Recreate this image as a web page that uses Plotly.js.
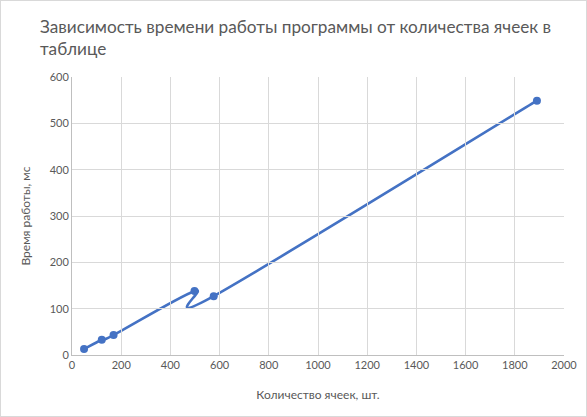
<!DOCTYPE html>
<html><head><meta charset="utf-8">
<script src="https://cdn.plot.ly/plotly-3.0.1.min.js"></script>
<style>html,body{margin:0;padding:0;background:#fff}#c{width:587px;height:417px;box-sizing:border-box;border:1px solid #d9d9d9}</style>
</head><body><div id="c"></div>
<script>
const cells = [49, 121, 169, 498, 576, 1890];
const timeMs = [13, 33, 43, 138, 127, 549];
const xTicks = [0, 200, 400, 600, 800, 1000, 1200, 1400, 1600, 1800, 2000];
const yTicks = [0, 100, 200, 300, 400, 500, 600];

// Excel-style smoothed line: Bezier segments through the data (Catmull-Rom control points)
function smoothPath(xs, ys) {
  const n = xs.length;
  const P = i => [xs[Math.max(0, Math.min(n - 1, i))], ys[Math.max(0, Math.min(n - 1, i))]];
  let d = 'M' + xs[0] + ',' + ys[0];
  for (let i = 0; i < n - 1; i++) {
    const p0 = P(i - 1), p1 = P(i), p2 = P(i + 1), p3 = P(i + 2);
    const c1 = [p1[0] + (p2[0] - p0[0]) / 6, p1[1] + (p2[1] - p0[1]) / 6];
    const c2 = [p2[0] - (p3[0] - p1[0]) / 6, p2[1] - (p3[1] - p1[1]) / 6];
    d += ' C' + c1[0] + ',' + c1[1] + ' ' + c2[0] + ',' + c2[1] + ' ' + p2[0] + ',' + p2[1];
  }
  return d;
}

const font = 'Lato, "Open Sans", sans-serif';
const col = '#4472C4';
Plotly.newPlot('c', [{
  x: cells, y: timeMs, type: 'scatter', mode: 'markers',
  marker: {size: 8, color: col},
  cliponaxis: false
}], {
  width: 585, height: 415,
  margin: {l: 71, r: 22, t: 76, b: 61},
  paper_bgcolor: '#fff', plot_bgcolor: '#fff',
  showlegend: false,
  shapes: [{type: 'path', xref: 'x', yref: 'y', path: smoothPath(cells, timeMs),
    line: {color: col, width: 2.6}, fillcolor: 'rgba(0,0,0,0)', layer: 'below'}],
  annotations: [{text: 'Зависимость времени работы программы от количества ячеек в<br>таблице',
    xref: 'paper', yref: 'paper', x: -34/492, y: 1 + 63/278, xanchor: 'left', yanchor: 'top',
    align: 'left', showarrow: false,
    font: {family: font, size: 17.2, color: '#595959'}}],
  xaxis: {range: [0, 2000], tickvals: xTicks, ticktext: xTicks.map(String),
    showgrid: true, gridcolor: '#d9d9d9', gridwidth: 1, zeroline: false,
    showline: true, linecolor: '#bfbfbf', ticks: '',
    tickfont: {family: font, size: 11, color: '#595959'},
    title: {text: 'Количество ячеек, шт.', font: {family: font, size: 12, color: '#595959'}, standoff: 20}},
  yaxis: {range: [0, 600], tickvals: yTicks, ticktext: yTicks.map(String),
    showgrid: true, gridcolor: '#d9d9d9', gridwidth: 1, zeroline: false,
    showline: true, linecolor: '#bfbfbf', ticks: '',
    tickfont: {family: font, size: 11, color: '#595959'},
    title: {text: 'Время работы, мс', font: {family: font, size: 12, color: '#595959'}, standoff: 16}}
}, {staticPlot: true});
</script></body></html>
